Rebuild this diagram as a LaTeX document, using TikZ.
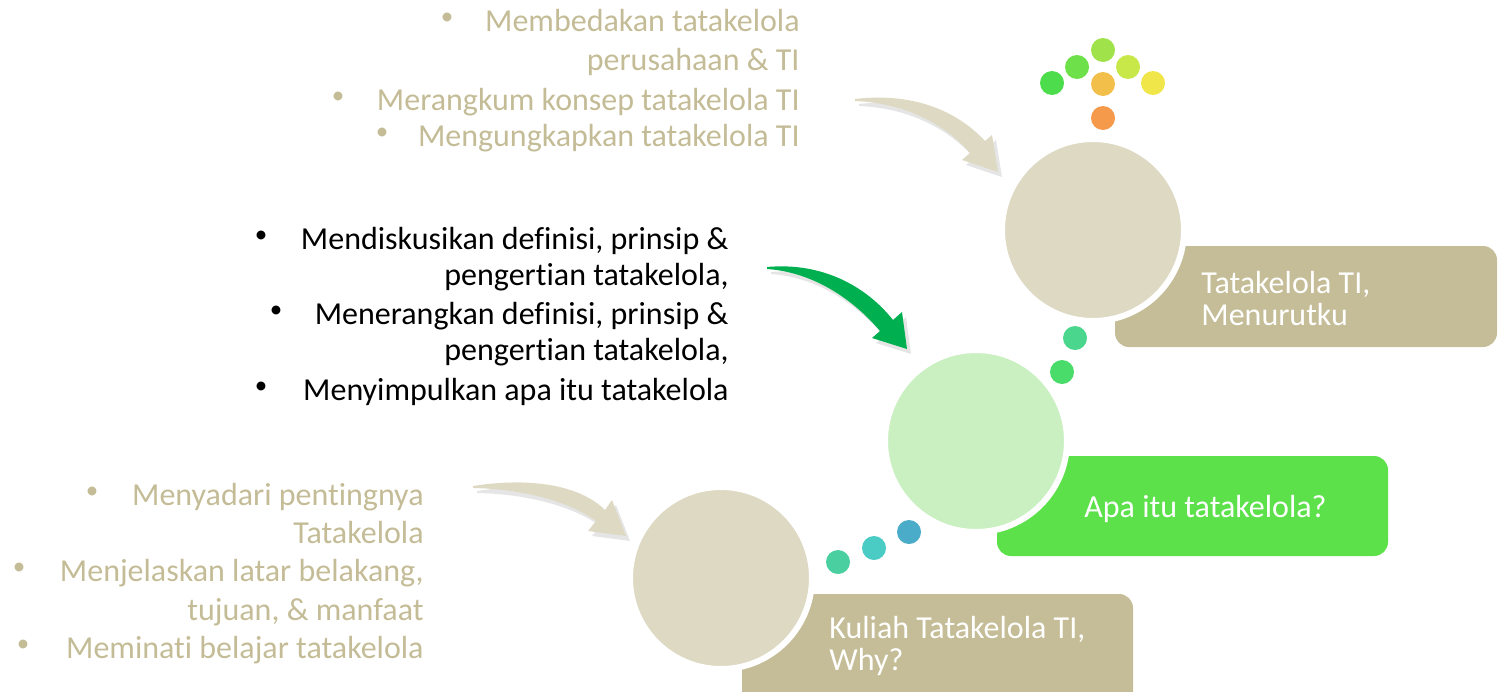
\documentclass[tikz,border=0pt]{standalone}
\usepackage{fontspec}
\setmainfont{Carlito}[Ligatures=NoCommon]
\definecolor{beigetxt}{HTML}{C4BC96}
\definecolor{beigebox}{HTML}{C4BD97}
\definecolor{beigecirc}{HTML}{DDD9C3}
\definecolor{greenbox}{HTML}{5CE14B}
\definecolor{greencirc}{HTML}{CAF0C2}
\definecolor{greenarrow}{HTML}{00B050}
\definecolor{beigearrow}{HTML}{DDD9C3}
\tikzset{
  txt/.style={font=\fontsize{16}{19}\selectfont, inner sep=0pt, anchor=base east},
  bul/.style={font=\fontsize{12.5}{14}\selectfont, inner sep=0pt, anchor=center},
  boxtxt/.style={font=\fontsize{16}{19}\selectfont, inner sep=0pt, anchor=base west, text=white},
  bigcirc/.style={circle, draw=white, line width=3pt, minimum size=91pt, inner sep=0pt},
  dot/.style={circle, minimum size=12pt, inner sep=0pt},
  panel/.style={rounded corners=7pt},
  shade/.style={fill=black, opacity=0.10},
  beigefill/.style={fill=beigearrow},
  greenfill/.style={fill=greenarrow},
}
\begin{document}
\begin{tikzpicture}[x=0.5pt,y=-0.5pt]
\useasboundingbox (0,0) rectangle (1499,691);

% panels
\fill[panel, beigebox] (1115,246) rectangle (1497,347);
\fill[panel, greenbox] (997,456) rectangle (1388,556);
\fill[panel, beigebox] (742,594) rectangle (1133,710);

% circles
\node[bigcirc, fill=beigecirc] (ctop) at (1093,230) {};
\node[bigcirc, fill=greencirc] (cmid) at (976,441) {};
\node[bigcirc, fill=beigecirc] (cbot) at (721,578) {};

% panel texts
\node[boxtxt] (pt1) at (1201,293) {Tatakelola TI,};
\node[boxtxt] (pt2) at (1201,325) {Menurutku};
\node[boxtxt] (pm1) at (1084,517) {Apa itu tatakelola?};
\node[boxtxt] (pb1) at (829,638) {Kuliah Tatakelola TI,};
\node[boxtxt] (pb2) at (829,670) {Why?};

% dots top
\node[dot, fill={rgb,255:red,76;green,220;blue,76}] (d1) at (1052,83) {};
\node[dot, fill={rgb,255:red,110;green,224;blue,74}] (d2) at (1077,67) {};
\node[dot, fill={rgb,255:red,160;green,226;blue,74}] (d3) at (1103,50) {};
\node[dot, fill={rgb,255:red,200;green,232;blue,74}] (d4) at (1128,67) {};
\node[dot, fill={rgb,255:red,240;green,230;blue,74}] (d5) at (1153,83) {};
\node[dot, fill={rgb,255:red,242;green,192;blue,74}] (d6) at (1103,84) {};
\node[dot, fill={rgb,255:red,245;green,154;blue,74}] (d7) at (1103,118) {};
% dots middle
\node[dot, fill={rgb,255:red,74;green,214;blue,140}] (d8) at (1075,338) {};
\node[dot, fill={rgb,255:red,74;green,220;blue,106}] (d9) at (1062,372) {};
% dots bottom
\node[dot, fill={rgb,255:red,74;green,207;blue,160}] (d10) at (838,562) {};
\node[dot, fill={rgb,255:red,74;green,203;blue,196}] (d11) at (874,548) {};
\node[dot, fill={rgb,255:red,74;green,172;blue,200}] (d12) at (909,532) {};

% arrows (block arrows) with soft shadow
\foreach \dx/\dy/\st in {4/5/shade, 0/0/beigefill}{
  \begin{scope}[shift={(\dx,\dy)}]
  \path[\st] (855,99) .. controls (915,92) and (958,112) .. (985,141) -- (992,135) -- (998,172)
    -- (962,160) -- (970,153) .. controls (945,124) and (905,103) .. (855,101) -- cycle;
  \path[\st] (473,486) .. controls (530,477) and (580,485) .. (605,510) -- (612,500) -- (626,536)
    -- (588,531) -- (596,521) .. controls (570,502) and (525,489) .. (473,488) -- cycle;
  \end{scope}
}
\foreach \dx/\dy/\st in {4/5/shade, 0/0/greenfill}{
  \begin{scope}[shift={(\dx,\dy)}]
  \path[\st] (767,267) .. controls (822,262) and (866,286) .. (893,320) -- (902,312) -- (907,349)
    -- (872,338) -- (880,331) .. controls (852,298) and (812,272) .. (767,269) -- cycle;
  \end{scope}
}

% top beige text
\begin{scope}[text=beigetxt]
\node[bul] (tb1) at (447,19) {•};
\node[txt] (tt1) at (800,31) {Membedakan tatakelola};
\node[txt] (tt2) at (800,70) {perusahaan \& TI};
\node[bul] (tb2) at (338,98) {•};
\node[txt] (tt3) at (800,110) {Merangkum konsep tatakelola TI};
\node[bul] (tb3) at (382,134) {•};
\node[txt] (tt4) at (800,146) {Mengungkapkan tatakelola TI};
\end{scope}

% middle black text
\node[bul] (mb1) at (261,237) {•};
\node[txt] (mt1) at (729,249) {Mendiskusikan definisi, prinsip \&};
\node[txt] (mt2) at (729,285) {pengertian tatakelola,};
\node[bul] (mb2) at (276,312) {•};
\node[txt] (mt3) at (729,324) {Menerangkan definisi, prinsip \&};
\node[txt] (mt4) at (729,360) {pengertian tatakelola,};
\node[bul] (mb3) at (261,388) {•};
\node[txt] (mt5) at (729,400) {Menyimpulkan apa itu tatakelola};

% bottom beige text
\begin{scope}[text=beigetxt]
\node[bul] (bb1) at (92,493) {•};
\node[txt] (bt1) at (424,505) {Menyadari pentingnya};
\node[txt] (bt2) at (424,543) {Tatakelola};
\node[bul] (bb2) at (19,569) {•};
\node[txt] (bt3) at (424,581) {Menjelaskan latar belakang,};
\node[txt] (bt4) at (424,620) {tujuan, \& manfaat};
\node[bul] (bb3) at (23,646) {•};
\node[txt] (bt5) at (424,658) {Meminati belajar tatakelola};
\end{scope}
\end{tikzpicture}
\end{document}
